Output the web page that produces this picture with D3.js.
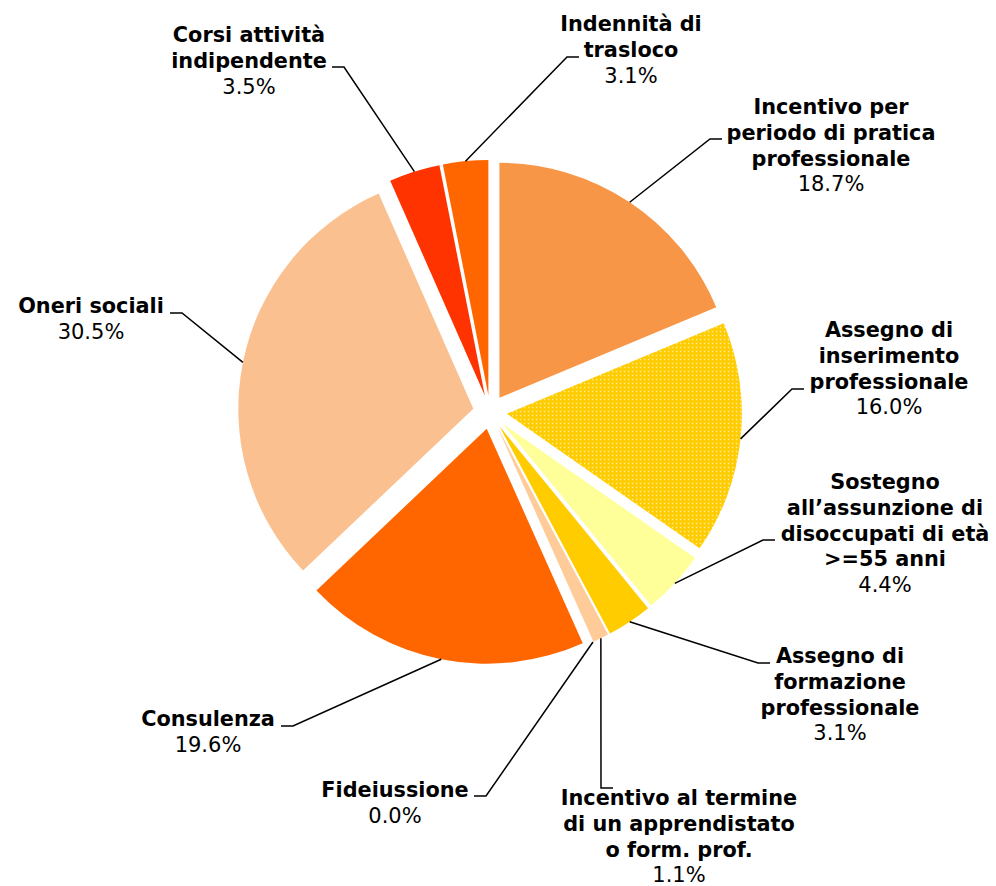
<!DOCTYPE html>
<html>
<head>
<meta charset="utf-8">
<script src="https://cdn.jsdelivr.net/npm/d3@7"></script>
<style>
  body { margin: 0; background: #fff; }
  text { font-family: Verdana, "DejaVu Sans", sans-serif; fill: #000; }
</style>
</head>
<body>
<div id="vis"></div>
<script>
// slices clockwise from 12 o'clock
const categories = [
  ["Incentivo per", "periodo di pratica", "professionale"],
  ["Assegno di", "inserimento", "professionale"],
  ["Sostegno", "all\u2019assunzione di", "disoccupati di età", ">=55 anni"],
  ["Assegno di", "formazione", "professionale"],
  ["Incentivo al termine", "di un apprendistato", "o form. prof."],
  ["Fideiussione"],
  ["Consulenza"],
  ["Oneri sociali"],
  ["Corsi attività", "indipendente"],
  ["Indennità di", "trasloco"]
];
const values = [18.7, 16.0, 4.4, 3.1, 1.1, 0.0, 19.6, 30.5, 3.5, 3.1];

const colors = ["#F79646", "url(#dots)", "#FFFF99", "#FFCC00", "#FFCC99",
                "#FFCC99", "#FF6600", "#FAC090", "#FF3300", "#FF6600"];

// label layout: centre x, first baseline, elbow of the leader line
const labelX = [831, 889, 885, 840, 679, 395, 208, 91, 249, 631];
const labelY = [114, 337, 489, 663, 805, 797, 726, 313, 42, 31];
const elbows = [[710, 139], [792, 389], [763, 540], [758, 663], [601, 788],
                [486, 796], [293, 726], [182, 313], [344, 67], [567, 57]];

const width = 996, height = 886;
const cx = 490, cy = 412, radius = 235, explode = 17;
const lineH = 25.8;

const svg = d3.select("#vis").append("svg")
  .attr("width", width)
  .attr("height", height);

const pat = svg.append("defs").append("pattern")
  .attr("id", "dots")
  .attr("patternUnits", "userSpaceOnUse")
  .attr("width", 4).attr("height", 4);
pat.append("rect").attr("width", 4).attr("height", 4).attr("fill", "#FFCC00");
pat.append("rect").attr("x", 1).attr("y", 1).attr("width", 1.3).attr("height", 1.3)
  .attr("fill", "#FFF4C0");

const pie = d3.pie().sort(null).value(d => d);
const arcs = pie(values);
const arc = d3.arc().innerRadius(0).outerRadius(radius);

const mid = d => (d.startAngle + d.endAngle) / 2;

const g = svg.append("g").attr("transform", `translate(${cx},${cy})`);

g.selectAll("path.slice")
  .data(arcs)
  .enter()
  .append("path")
  .attr("class", "slice")
  .attr("d", arc)
  .attr("fill", (d, i) => colors[i])
  .attr("transform", d => `translate(${Math.sin(mid(d)) * explode},${-Math.cos(mid(d)) * explode})`);

// leader lines
arcs.forEach((d, i) => {
  const a = mid(d);
  const r = radius + explode;
  const x0 = cx + Math.sin(a) * r, y0 = cy - Math.cos(a) * r;
  const [ex, ey] = elbows[i];
  const pts = [[x0, y0], [ex, ey]];
  if (Math.abs(ex - labelX[i]) > 20) {
    pts.push([ex < labelX[i] ? ex + 12 : ex - 12, ey]);
  }
  svg.append("path")
    .attr("d", d3.line()(pts))
    .attr("fill", "none")
    .attr("stroke", "#000")
    .attr("stroke-width", 1.5);
});

// labels
categories.forEach((lines, i) => {
  const t = svg.append("text")
    .attr("text-anchor", "middle")
    .attr("x", labelX[i])
    .attr("y", labelY[i]);
  lines.forEach((ln, j) => {
    t.append("tspan")
      .attr("x", labelX[i])
      .attr("dy", j === 0 ? 0 : lineH)
      .attr("font-weight", "bold")
      .attr("font-size", "20.8px")
      .text(ln);
  });
  t.append("tspan")
    .attr("x", labelX[i])
    .attr("dy", lineH)
    .attr("font-size", "21px")
    .text(values[i].toFixed(1) + "%");
});
</script>
</body>
</html>
